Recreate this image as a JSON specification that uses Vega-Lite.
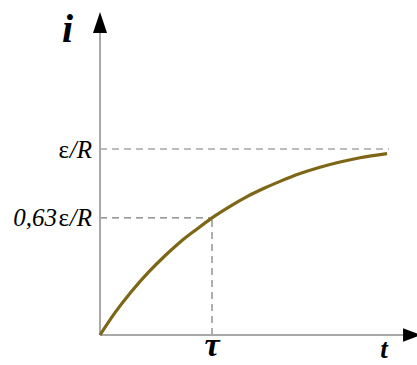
{
  "$schema": "https://vega.github.io/schema/vega-lite/v6.json",
  "width": 417,
  "height": 365,
  "autosize": "none",
  "padding": 0,
  "background": "white",
  "config": {"view": {"stroke": null}},
  "datasets": {
    "curve": [
      {"t": 0, "i": 0},
      {"t": 0.134, "i": 0.12},
      {"t": 0.277, "i": 0.231},
      {"t": 0.429, "i": 0.335},
      {"t": 0.58, "i": 0.426},
      {"t": 0.714, "i": 0.499},
      {"t": 0.866, "i": 0.57},
      {"t": 1.0, "i": 0.63},
      {"t": 1.161, "i": 0.692},
      {"t": 1.3125, "i": 0.744},
      {"t": 1.455, "i": 0.786},
      {"t": 1.607, "i": 0.826},
      {"t": 1.786, "i": 0.868},
      {"t": 1.964, "i": 0.902},
      {"t": 2.143, "i": 0.93},
      {"t": 2.321, "i": 0.953},
      {"t": 2.5625, "i": 0.975}
    ],
    "axes": [
      {"t": 0, "i": 0, "t2": 0, "i2": 1.624},
      {"t": 0, "i": 0, "t2": 2.705, "i2": 0}
    ],
    "guides": [
      {"t": 0, "i": 1, "t2": 2.58, "i2": 1},
      {"t": 0, "i": 0.63, "t2": 1, "i2": 0.63},
      {"t": 1, "i": 0, "t2": 1, "i2": 0.63}
    ],
    "arrowUp": [{"t": 0, "i": 1.68}],
    "arrowRight": [{"t": 2.786, "i": 0}],
    "levels": [
      {"t": -0.071, "i": 0.952, "coef": ""},
      {"t": -0.071, "i": 0.586, "coef": "0,63"}
    ],
    "current": [{"t": -0.29, "i": 1.575, "label": "i"}],
    "timeConst": [{"t": 1.0, "i": -0.113, "label": "τ"}],
    "time": [{"t": 2.536, "i": -0.124, "label": "t"}]
  },
  "encoding": {
    "x": {"field": "t", "type": "quantitative", "scale": {"domain": [-0.893, 2.83], "nice": false, "zero": false}, "axis": null},
    "y": {"field": "i", "type": "quantitative", "scale": {"domain": [-0.1613, 1.8011], "nice": false, "zero": false}, "axis": null}
  },
  "layer": [
    {
      "data": {"name": "guides"},
      "mark": {"type": "rule", "color": "#7a7a7a", "strokeWidth": 1.2, "strokeDash": [7, 5]},
      "encoding": {
        "x2": {"field": "t2"},
        "y2": {"field": "i2"}
      }
    },
    {
      "data": {"name": "axes"},
      "mark": {"type": "rule", "color": "#a8a8a8", "strokeWidth": 2},
      "encoding": {
        "x2": {"field": "t2"},
        "y2": {"field": "i2"}
      }
    },
    {
      "data": {"name": "arrowUp"},
      "mark": {"type": "point", "shape": "M-0.667,1L0.667,1L0,-1Z", "size": 441, "filled": true, "color": "black", "opacity": 1}
    },
    {
      "data": {"name": "arrowRight"},
      "mark": {"type": "point", "shape": "M-1,-0.75L1,0L-1,0.75Z", "size": 324, "filled": true, "color": "black", "opacity": 1}
    },
    {
      "data": {"name": "curve"},
      "mark": {"type": "line", "color": "#7d6616", "strokeWidth": 3.2, "interpolate": "monotone"}
    },
    {
      "data": {"name": "levels"},
      "mark": {"type": "text", "align": "right", "baseline": "alphabetic", "font": "Liberation Serif", "fontStyle": "italic", "fontSize": 25, "color": "black", "text": "/R"}
    },
    {
      "data": {"name": "levels"},
      "mark": {"type": "text", "align": "right", "baseline": "alphabetic", "font": "Liberation Serif", "fontSize": 25, "color": "black", "dx": -23, "text": "ε"}
    },
    {
      "data": {"name": "levels"},
      "mark": {"type": "text", "align": "right", "baseline": "alphabetic", "font": "Liberation Serif", "fontStyle": "italic", "fontSize": 25, "color": "black", "dx": -35},
      "encoding": {"text": {"field": "coef"}}
    },
    {
      "data": {"name": "current"},
      "mark": {"type": "text", "align": "center", "baseline": "alphabetic", "font": "Liberation Serif", "fontStyle": "italic", "fontWeight": "bold", "fontSize": 40, "color": "black"},
      "encoding": {"text": {"field": "label"}}
    },
    {
      "data": {"name": "timeConst"},
      "mark": {"type": "text", "align": "center", "baseline": "alphabetic", "font": "Liberation Serif", "fontStyle": "italic", "fontWeight": "bold", "fontSize": 34, "color": "black"},
      "encoding": {"text": {"field": "label"}}
    },
    {
      "data": {"name": "time"},
      "mark": {"type": "text", "align": "center", "baseline": "alphabetic", "font": "Liberation Serif", "fontStyle": "italic", "fontWeight": "bold", "fontSize": 27, "color": "black"},
      "encoding": {"text": {"field": "label"}}
    }
  ]
}
